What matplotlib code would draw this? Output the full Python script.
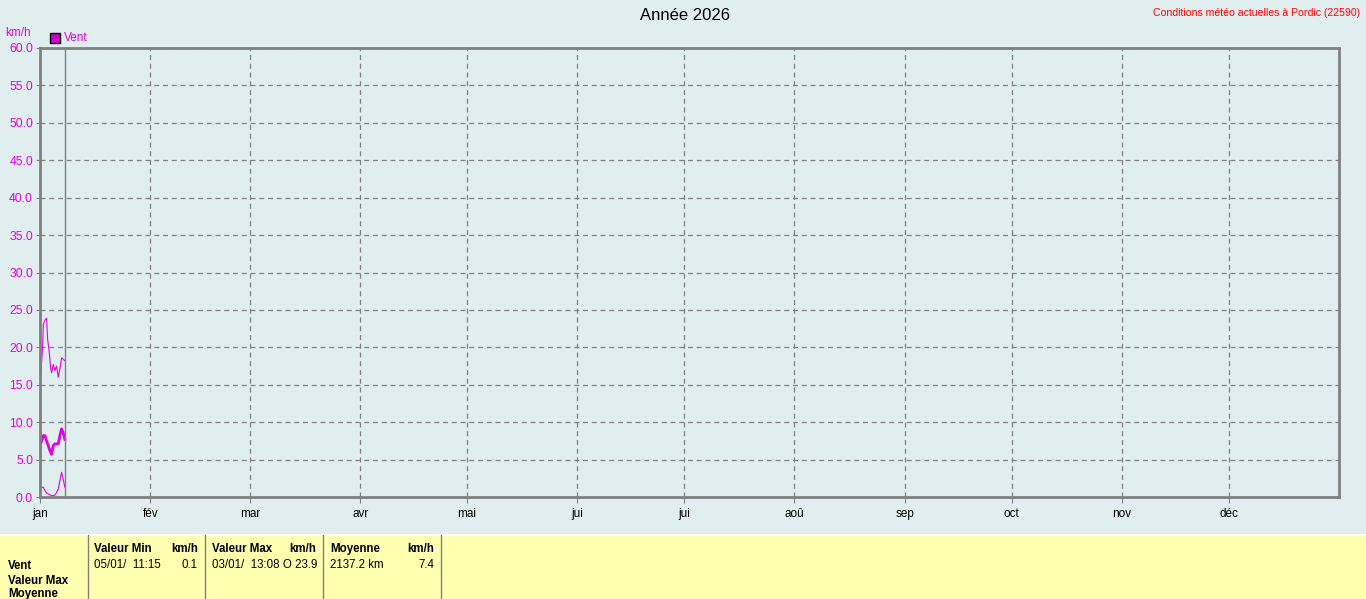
import matplotlib
matplotlib.use('Agg')
import matplotlib.pyplot as plt
from matplotlib.patches import Rectangle

plt.rcParams['font.family'] = ['Liberation Sans', 'DejaVu Sans']

# Month starts (day of year) and labels
month_days = [0, 31, 59, 90, 120, 151, 181, 212, 243, 273, 304, 334]
month_labels = ['jan', 'fév', 'mar', 'avr', 'mai', 'jui', 'jui', 'aoû',
                'sep', 'oct', 'nov', 'déc']

# Wind max (km/h), days since Jan 1
max_days = [0, 0.47, 0.75, 0.93, 1.49, 1.86, 2.14, 2.61, 2.98, 3.26, 3.73,
            4.19, 4.66, 5.13, 5.59, 6.06, 6.52, 6.99]
max_vals = [14.9, 18.2, 20.2, 23.1, 23.7, 23.9, 21.1, 19.3, 17.3, 16.6, 17.7,
            16.9, 17.5, 16.0, 17.1, 18.6, 18.4, 18.2]

# Wind mean and min (km/h)
days = [0, 0.47, 0.93, 1.4, 1.86, 2.33, 2.8, 3.26, 3.73, 4.19, 4.66, 5.13,
        5.59, 6.06, 6.52, 6.99]
mean_vals = [6.85, 7.5, 8.2, 8.2, 7.5, 6.85, 6.2, 5.7, 6.85, 7.1, 7.1, 7.1,
             8.2, 9.1, 8.6, 7.7]
min_vals = [1.07, 1.3, 1.3, 0.85, 0.53, 0.4, 0.27, 0.18, 0.18, 0.27, 0.6,
            1.07, 2.2, 3.3, 2.4, 1.3]

now_day = 7.05

bg = '#E0EEF0'
mag = '#E000E0'
grey = '#808080'

fig = plt.figure(figsize=(13.66, 5.99), dpi=100, facecolor=bg)
ax = fig.add_axes([40/1366, 102/599, 1299/1366, 449/599], facecolor=bg)

ax.plot(max_days, max_vals, color=mag, lw=0.8)
ax.plot(days, mean_vals, color=mag, lw=2.0)
ax.plot(days, min_vals, color=mag, lw=0.8)
ax.axvline(now_day, color=grey, lw=1.0)

ax.set_xlim(0, 365)
ax.set_ylim(0, 60)
ax.set_xticks(month_days)
ax.set_xticklabels(month_labels)
ax.set_yticks(range(0, 61, 5))
ax.set_yticklabels(['%.1f' % v for v in range(0, 61, 5)])
ax.tick_params(axis='x', colors='black', labelsize=8.5, length=4, color=grey,
               pad=4)
ax.tick_params(axis='y', labelcolor=mag, labelsize=8.8, length=3, color=grey,
               pad=2)
ax.grid(True, color=grey, ls=(0, (4, 3)), lw=0.9)
for s in ax.spines.values():
    s.set_color(grey)
    s.set_linewidth(2)

# header texts
fig.text(685/1366, 1 - 15/599, 'Année 2026', ha='center', va='center',
         fontsize=12)
fig.text(1360/1366, 1 - 13/599, 'Conditions météo actuelles à Pordic (22590)',
         ha='right', va='center', fontsize=7.6, color='red')
fig.text(5/1366, 1 - 33/599, 'km/h', ha='left', va='center', fontsize=8.5,
         color=mag)
fig.patches.append(Rectangle((50/1366, 1 - 43/599), 10/1366, 10/599,
                             transform=fig.transFigure, facecolor='#D000D0',
                             edgecolor='black', lw=1))
fig.text(64/1366, 1 - 38/599, 'Vent', ha='left', va='center', fontsize=8.5,
         color=mag)

# summary table
fig.patches.append(Rectangle((0, 0), 1, 64/599, transform=fig.transFigure,
                             facecolor='#FFFFB0', edgecolor='none'))
fig.add_artist(plt.Line2D([0, 1], [64/599, 64/599], transform=fig.transFigure,
                          color='white', lw=1.5))
for xs in [88, 205, 323, 441]:
    fig.add_artist(plt.Line2D([xs/1366, xs/1366], [0, 64/599],
                              transform=fig.transFigure, color=grey, lw=1))

def t(x, y, s, ha='left', bold=False):
    fig.text(x/1366, 1 - y/599, s, ha=ha, va='center', fontsize=8.3,
             fontweight='bold' if bold else 'normal')

t(94, 549, 'Valeur Min', bold=True)
t(198, 549, 'km/h', ha='right', bold=True)
t(212, 549, 'Valeur Max', bold=True)
t(316, 549, 'km/h', ha='right', bold=True)
t(330, 549, 'Moyenne', bold=True)
t(434, 549, 'km/h', ha='right', bold=True)
t(94, 565, '05/01/  11:15')
t(197, 565, '0.1', ha='right')
t(212, 565, '03/01/  13:08')
t(317, 565, 'O 23.9', ha='right')
t(330, 565, '2137.2 km')
t(434, 565, '7.4', ha='right')
t(8, 566, 'Vent', bold=True)
t(8, 581, 'Valeur Max', bold=True)
t(8, 594, 'Moyenne', bold=True)

fig.savefig('out.png', dpi=100, facecolor=bg)
